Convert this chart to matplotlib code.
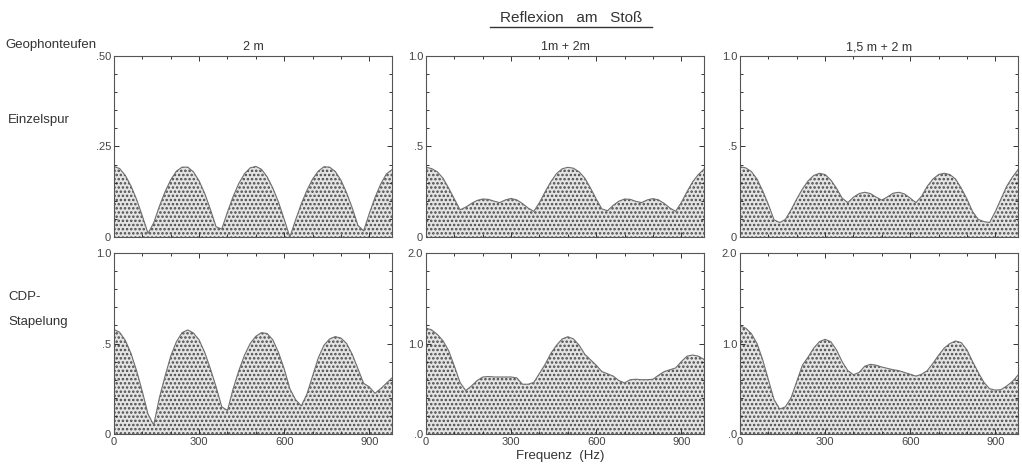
import matplotlib
matplotlib.use("Agg")
import matplotlib.pyplot as plt
from matplotlib.ticker import MultipleLocator, FixedLocator, FixedFormatter

# frequency grid (Hz)
freq = [0, 20, 40, 60, 80, 100, 120, 140, 160, 180,
        200, 220, 240, 260, 280, 300, 320, 340, 360, 380,
        400, 420, 440, 460, 480, 500, 520, 540, 560, 580,
        600, 620, 640, 660, 680, 700, 720, 740, 760, 780,
        800, 820, 840, 860, 880, 900, 920, 940, 960, 980]

# Einzelspur
single_2m = [0.195, 0.189, 0.170, 0.141, 0.103, 0.058, 0.010, 0.039, 0.085, 0.125,
             0.158, 0.182, 0.193, 0.193, 0.180, 0.155, 0.120, 0.076, 0.028, 0.022,
             0.069, 0.112, 0.148, 0.175, 0.191, 0.195, 0.187, 0.166, 0.135, 0.096,
             0.049, 0.000, 0.047, 0.091, 0.129, 0.160, 0.182, 0.194, 0.193, 0.181,
             0.157, 0.122, 0.080, 0.032, 0.017, 0.065, 0.109, 0.146, 0.174, 0.186]
single_1m2m = [0.385, 0.378, 0.360, 0.325, 0.270, 0.210, 0.150, 0.165, 0.185, 0.202,
               0.210, 0.208, 0.198, 0.190, 0.205, 0.213, 0.205, 0.185, 0.160, 0.142,
               0.190, 0.250, 0.305, 0.350, 0.377, 0.385, 0.380, 0.360, 0.325, 0.270,
               0.210, 0.155, 0.145, 0.175, 0.198, 0.210, 0.208, 0.197, 0.190, 0.205,
               0.212, 0.205, 0.185, 0.160, 0.142, 0.190, 0.250, 0.305, 0.345, 0.375]
single_15m2m = [0.388, 0.382, 0.362, 0.320, 0.255, 0.180, 0.095, 0.080, 0.097, 0.150,
                0.210, 0.265, 0.310, 0.340, 0.352, 0.345, 0.315, 0.270, 0.215, 0.190,
                0.220, 0.240, 0.247, 0.240, 0.220, 0.204, 0.222, 0.242, 0.247, 0.238,
                0.215, 0.190, 0.225, 0.280, 0.320, 0.345, 0.352, 0.345, 0.320, 0.270,
                0.210, 0.140, 0.097, 0.085, 0.080, 0.140, 0.210, 0.280, 0.330, 0.372]

# CDP-Stapelung
cdp_2m = [0.578, 0.562, 0.517, 0.445, 0.348, 0.234, 0.110, 0.050, 0.200, 0.320,
          0.430, 0.510, 0.560, 0.575, 0.558, 0.520, 0.450, 0.360, 0.260, 0.150,
          0.130, 0.250, 0.350, 0.435, 0.500, 0.540, 0.560, 0.555, 0.520, 0.450,
          0.360, 0.250, 0.190, 0.155, 0.220, 0.320, 0.420, 0.490, 0.525, 0.538,
          0.530, 0.500, 0.440, 0.360, 0.280, 0.260, 0.225, 0.250, 0.280, 0.310]
cdp_1m2m = [1.170, 1.150, 1.100, 1.030, 0.920, 0.750, 0.570, 0.480, 0.530, 0.590,
            0.630, 0.635, 0.630, 0.630, 0.630, 0.630, 0.620, 0.550, 0.550, 0.570,
            0.670, 0.770, 0.890, 0.980, 1.050, 1.075, 1.050, 0.980, 0.880, 0.820,
            0.760, 0.690, 0.665, 0.640, 0.590, 0.565, 0.600, 0.605, 0.600, 0.600,
            0.605, 0.650, 0.690, 0.710, 0.730, 0.800, 0.860, 0.873, 0.860, 0.825]
cdp_15m2m = [1.193, 1.170, 1.110, 1.000, 0.820, 0.600, 0.380, 0.276, 0.300, 0.400,
             0.580, 0.760, 0.850, 0.950, 1.020, 1.046, 1.020, 0.930, 0.800, 0.700,
             0.655, 0.680, 0.750, 0.770, 0.760, 0.740, 0.725, 0.710, 0.700, 0.680,
             0.660, 0.640, 0.660, 0.700, 0.780, 0.870, 0.950, 1.000, 1.028, 1.010,
             0.930, 0.800, 0.680, 0.570, 0.500, 0.485, 0.490, 0.530, 0.580, 0.650]

col_titles = ["2 m", "1m + 2m", "1,5 m + 2 m"]
top_series = [single_2m, single_1m2m, single_15m2m]
bottom_series = [cdp_2m, cdp_1m2m, cdp_15m2m]
top_ylim = [0.5, 1.0, 1.0]
bottom_ylim = [1.0, 2.0, 2.0]
top_ticks = [[0, 0.25, 0.5], [0, 0.5, 1.0], [0, 0.5, 1.0]]
top_ticklabels = [["0", ".25", ".50"], ["0", ".5", "1.0"], ["0", ".5", "1.0"]]
bottom_ticks = [[0, 0.5, 1.0], [0, 1.0, 2.0], [0, 1.0, 2.0]]
bottom_ticklabels = [["0", ".5", "1.0"], [".0", "1.0", "2.0"], [".0", "1.0", "2.0"]]
xticks = [0, 300, 600, 900]

INK = "#333333"
plt.rcParams.update({
    "font.family": ["Liberation Sans", "DejaVu Sans"],
    "hatch.linewidth": 1.2,
})

fig = plt.figure(figsize=(10.22, 4.65), dpi=100)
W, H = 1022, 465
lefts = [114, 426, 740]
width = 278
rows = [(56, 237), (253, 434)]


def style(ax, ymax, ticks, labels, show_x):
    ax.set_xlim(0, 980)
    ax.set_ylim(0, ymax)
    ax.xaxis.set_major_locator(FixedLocator(xticks))
    ax.xaxis.set_minor_locator(MultipleLocator(100))
    ax.yaxis.set_major_locator(FixedLocator(ticks))
    ax.yaxis.set_major_formatter(FixedFormatter(labels))
    ax.yaxis.set_minor_locator(MultipleLocator(ymax / 10))
    ax.tick_params(which="both", direction="in", top=True, right=True,
                   color=INK, width=0.7, labelsize=8, labelcolor="#444444", pad=2)
    ax.tick_params(which="major", length=3.5)
    ax.tick_params(which="minor", length=2.5)
    if not show_x:
        ax.tick_params(axis="x", labelbottom=False)
    for sp in ax.spines.values():
        sp.set_color("#555555")
        sp.set_linewidth(0.8)


for r, (top, bottom) in enumerate(rows):
    for c in range(3):
        ax = fig.add_axes([lefts[c] / W, 1 - bottom / H, width / W, (bottom - top) / H])
        vals = top_series[c] if r == 0 else bottom_series[c]
        ax.fill_between(freq, vals, 0, facecolor="#e4e4e4", hatch="....",
                        edgecolor="#4a4a4a", linewidth=0)
        ax.plot(freq, vals, color="#707070", linewidth=0.8)
        if r == 0:
            style(ax, top_ylim[c], top_ticks[c], top_ticklabels[c], False)
            ax.set_title(col_titles[c], fontsize=9, color=INK, pad=4)
        else:
            style(ax, bottom_ylim[c], bottom_ticks[c], bottom_ticklabels[c], True)

fig.text(571 / W, 1 - 18 / H, "Reflexion   am   Stoß", ha="center", va="center",
         fontsize=11, color=INK)
fig.add_artist(plt.Line2D([490 / W, 652 / W], [1 - 27 / H, 1 - 27 / H],
                          color=INK, linewidth=1.0))
fig.text(5 / W, 1 - 45 / H, "Geophonteufen", ha="left", va="center", fontsize=9.5, color=INK)
fig.text(8 / W, 1 - 120 / H, "Einzelspur", ha="left", va="center", fontsize=9.5, color=INK)
fig.text(8 / W, 1 - 297 / H, "CDP-", ha="left", va="center", fontsize=9.5, color=INK)
fig.text(8 / W, 1 - 322 / H, "Stapelung", ha="left", va="center", fontsize=9.5, color=INK)
fig.text(560 / W, 1 - 456 / H, "Frequenz  (Hz)", ha="center", va="center", fontsize=9.5, color=INK)

fig.savefig("out.png", dpi=100)
